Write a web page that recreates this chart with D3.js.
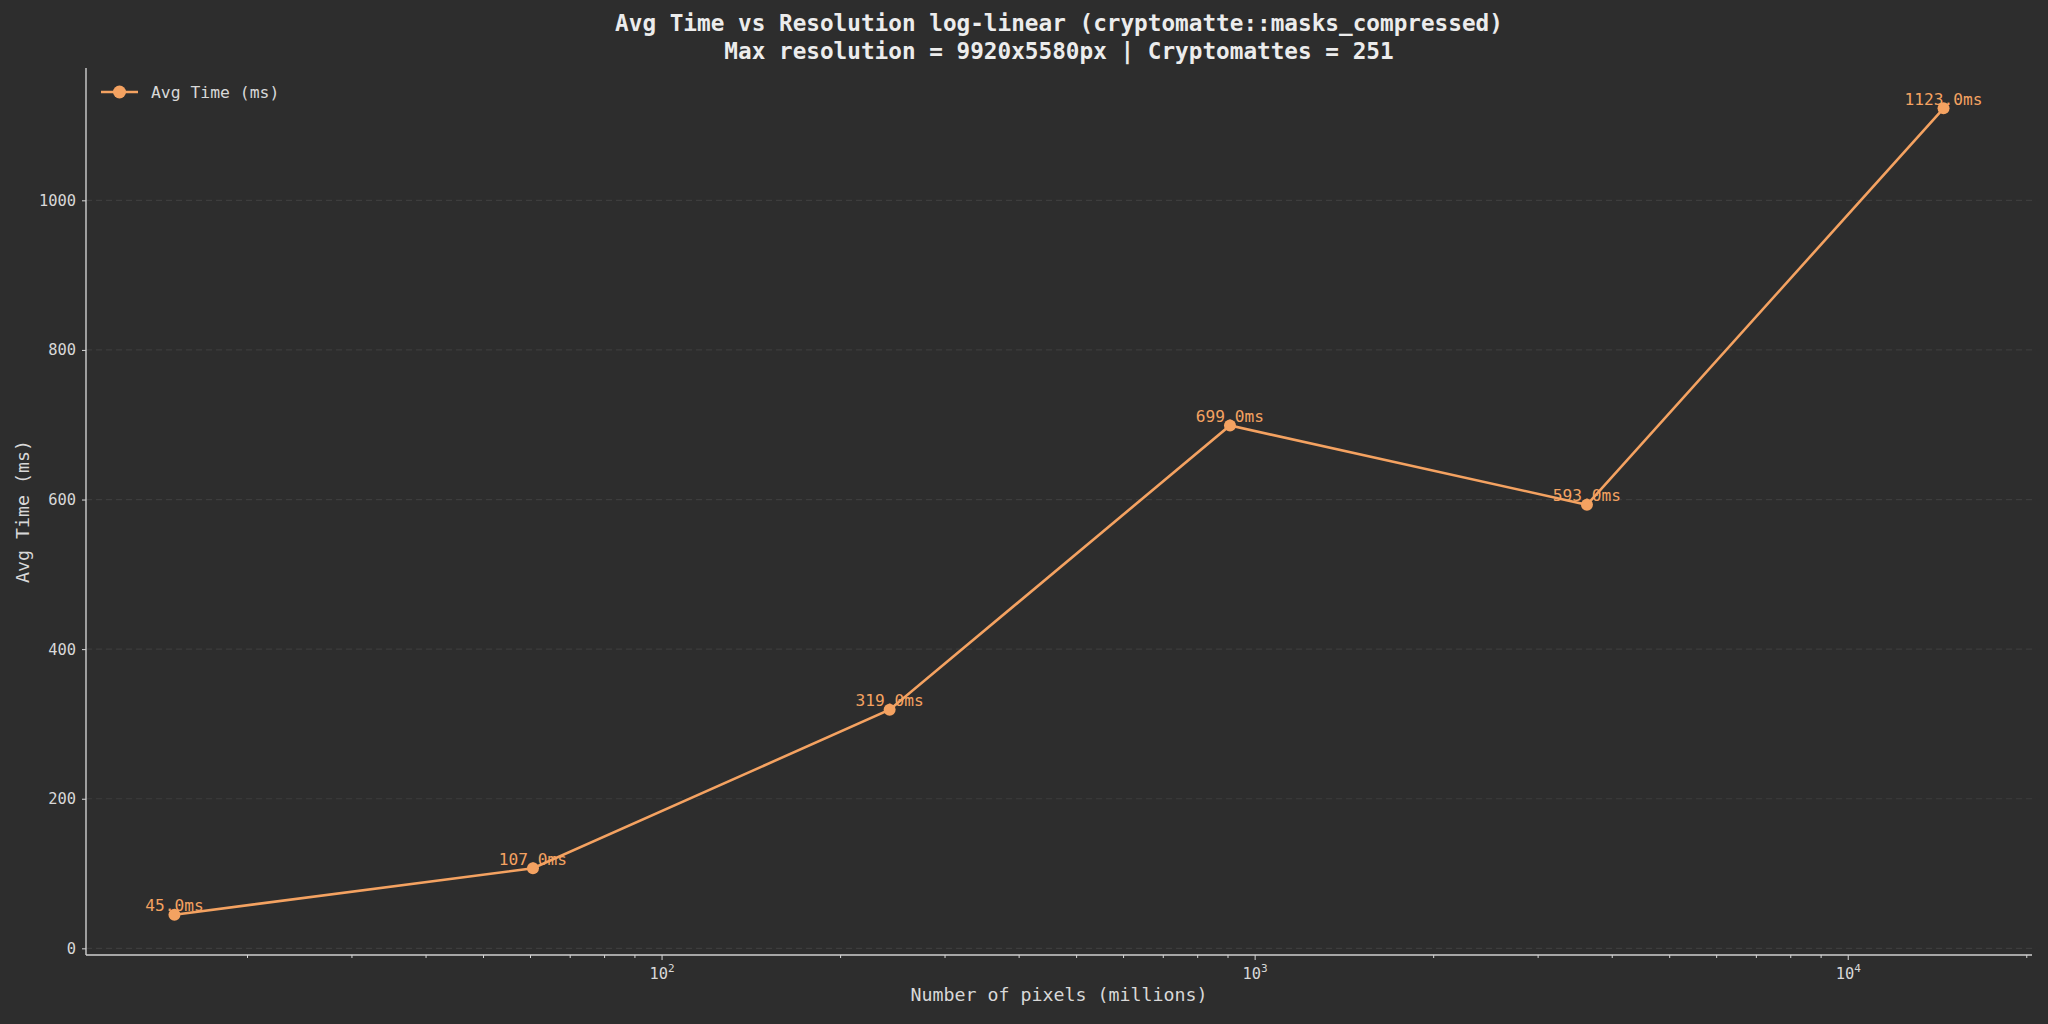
<!DOCTYPE html>
<html>
<head>
<meta charset="utf-8">
<script src="https://cdn.jsdelivr.net/npm/d3@7"></script>
<style>
  html, body { margin: 0; padding: 0; background: #2d2d2d; }
  svg { display: block; }
  text { font-family: "DejaVu Sans Mono", "Liberation Mono", monospace; }
</style>
</head>
<body>
<script>
// ---- data ----
const pixelsMillions = [15.09, 60.7, 242.4, 908.7, 3633, 14506];
const avgTimeMs = [45.0, 107.0, 319.0, 699.0, 593.0, 1123.0];
const yTicks = [0, 200, 400, 600, 800, 1000];
const xMajorExp = [2, 3, 4];
const titleLines = [
  "Avg Time vs Resolution log-linear (cryptomatte::masks_compressed)",
  "Max resolution = 9920x5580px | Cryptomattes = 251"
];
const xLabel = "Number of pixels (millions)";
const yLabel = "Avg Time (ms)";
const seriesName = "Avg Time (ms)";

// ---- layout ----
const W = 2048, H = 1024;
const M = { left: 86, right: 2032, top: 68, bottom: 955 };
const BG = "#2d2d2d", ORANGE = "#f4a261", FG = "#d8d8d8", GRID = "#3d3d3d";

const svg = d3.select("body").append("svg").attr("width", W).attr("height", H);
svg.append("rect").attr("width", W).attr("height", H).attr("fill", BG);

// x log scale with 5% log margins
const lx = d3.extent(pixelsMillions, d => Math.log10(d));
const lm = (lx[1] - lx[0]) * 0.05;
const x = d3.scaleLog().domain([Math.pow(10, lx[0] - lm), Math.pow(10, lx[1] + lm)]).range([M.left, M.right]);
const ye = d3.extent(avgTimeMs);
const ym = (ye[1] - ye[0]) * 0.05;
const y = d3.scaleLinear().domain([ye[0] - ym, ye[1] + ym]).range([M.bottom, M.top]);

// grid
svg.append("g").selectAll("line").data(yTicks).join("line")
  .attr("x1", M.left).attr("x2", M.right)
  .attr("y1", d => y(d)).attr("y2", d => y(d))
  .attr("stroke", GRID).attr("stroke-width", 1.2).attr("stroke-dasharray", "6,4");

// y axis
const yAxis = d3.axisLeft(y).tickValues(yTicks).tickSize(4).tickPadding(6).tickFormat(d3.format("d"));
const gy = svg.append("g").attr("transform", `translate(${M.left},0)`).call(yAxis);
gy.select(".domain").remove();
gy.selectAll(".tick line").attr("stroke", FG);
gy.selectAll(".tick text").attr("fill", FG).style("font-size", "15.4px")
  .style("font-family", "DejaVu Sans Mono");

// x axis: major + minor ticks
const [d0, d1] = x.domain();
const minor = [];
for (let e = Math.floor(Math.log10(d0)); e <= Math.ceil(Math.log10(d1)); e++) {
  for (let m = 2; m <= 9; m++) {
    const v = m * Math.pow(10, e);
    if (v >= d0 && v <= d1) minor.push(v);
  }
}
const gxMinor = svg.append("g").attr("transform", `translate(0,${M.bottom})`)
  .call(d3.axisBottom(x).tickValues(minor).tickSize(3).tickFormat(""));
gxMinor.select(".domain").remove();
gxMinor.selectAll(".tick line").attr("stroke", FG);

const majorVals = xMajorExp.map(e => Math.pow(10, e));
const gx = svg.append("g").attr("transform", `translate(0,${M.bottom})`)
  .call(d3.axisBottom(x).tickValues(majorVals).tickSize(5).tickFormat(""));
gx.select(".domain").remove();
gx.selectAll(".tick line").attr("stroke", FG);
gx.selectAll(".tick").each(function(d, i) {
  const t = d3.select(this).append("text").attr("fill", FG).attr("y", 24)
    .attr("text-anchor", "middle").style("font-size", "15.4px");
  t.append("tspan").text("10");
  t.append("tspan").attr("dy", -7).style("font-size", "11px").text(xMajorExp[i]);
});

// spines
svg.append("line").attr("x1", M.left).attr("x2", M.left).attr("y1", M.top).attr("y2", M.bottom)
  .attr("stroke", "#cfcfcf").attr("stroke-width", 1.4);
svg.append("line").attr("x1", M.left).attr("x2", M.right).attr("y1", M.bottom).attr("y2", M.bottom)
  .attr("stroke", "#cfcfcf").attr("stroke-width", 1.4);

// line + points
const pts = pixelsMillions.map((p, i) => [p, avgTimeMs[i]]);
svg.append("path").datum(pts)
  .attr("d", d3.line().x(d => x(d[0])).y(d => y(d[1])))
  .attr("fill", "none").attr("stroke", ORANGE).attr("stroke-width", 2.6);
svg.append("g").selectAll("circle").data(pts).join("circle")
  .attr("cx", d => x(d[0])).attr("cy", d => y(d[1])).attr("r", 6).attr("fill", ORANGE);

// data labels
svg.append("g").selectAll("text").data(pts).join("text")
  .attr("x", d => x(d[0])).attr("y", d => y(d[1]) - 3.5)
  .attr("text-anchor", "middle").attr("fill", ORANGE).style("font-size", "16.2px")
  .text(d => d[1].toFixed(1) + "ms");

// titles
svg.append("g").selectAll("text").data(titleLines).join("text")
  .attr("x", (M.left + M.right) / 2).attr("y", (d, i) => 31 + i * 28)
  .attr("text-anchor", "middle").attr("fill", "#ececec")
  .style("font-size", "22.7px").style("font-weight", "bold").text(d => d);

// axis labels
svg.append("text").attr("x", (M.left + M.right) / 2).attr("y", 1001)
  .attr("text-anchor", "middle").attr("fill", FG).style("font-size", "18.3px").text(xLabel);
svg.append("text").attr("transform", `translate(29,${(M.top + M.bottom) / 2}) rotate(-90)`)
  .attr("text-anchor", "middle").attr("fill", FG).style("font-size", "18.3px").text(yLabel);

// legend
const lg = svg.append("g").attr("transform", "translate(101,92)");
lg.append("line").attr("x1", 0).attr("x2", 37).attr("y1", 0).attr("y2", 0)
  .attr("stroke", ORANGE).attr("stroke-width", 2.6);
lg.append("circle").attr("cx", 18.5).attr("cy", 0).attr("r", 6.5).attr("fill", ORANGE);
lg.append("text").attr("x", 50).attr("y", 5.5).attr("fill", FG).style("font-size", "16.4px").text(seriesName);
</script>
</body>
</html>
